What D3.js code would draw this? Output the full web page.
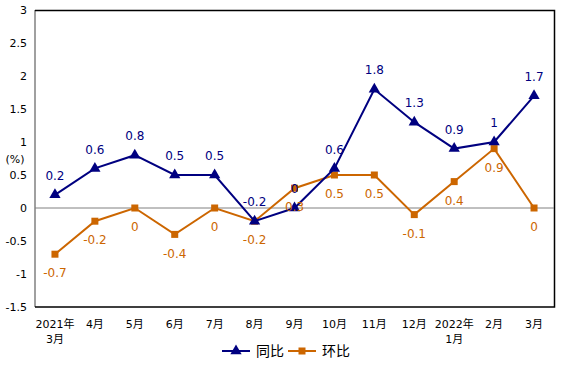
<!DOCTYPE html>
<html>
<head>
<meta charset="utf-8">
<script src="https://cdn.jsdelivr.net/npm/d3@7"></script>
<style>
  html, body { margin: 0; padding: 0; background: #fff; }
  svg text { font-family: "DejaVu Sans", "Noto Sans CJK SC", sans-serif; }
</style>
</head>
<body>
<div id="chart"></div>
<script>
// data
const months = ["2021年\n3月", "4月", "5月", "6月", "7月", "8月", "9月", "10月", "11月", "12月", "2022年\n1月", "2月", "3月"];
const yoy = [0.2, 0.6, 0.8, 0.5, 0.5, -0.2, 0, 0.6, 1.8, 1.3, 0.9, 1, 1.7];   // 同比
const mom = [-0.7, -0.2, 0, -0.4, 0, -0.2, 0.3, 0.5, 0.5, -0.1, 0.4, 0.9, 0]; // 环比
const yTicks = [3, 2.5, 2, 1.5, 1, 0.5, 0, -0.5, -1, -1.5];

const width = 574, height = 374;
const plotL = 35, plotR = 554, plotT = 10, plotB = 307;
const navy = "#000080", orange = "#cc6600";

const svg = d3.select("#chart").append("svg")
	.attr("width", width).attr("height", height);

const x = d3.scalePoint().domain(months).range([plotL, plotR]).padding(0.5);
const y = d3.scaleLinear().domain([-1.5, 3]).range([plotB, plotT]);

// frame: grey left axis, black top/right/bottom
svg.append("line").attr("x1", plotL).attr("x2", plotL).attr("y1", plotT).attr("y2", plotB)
	.attr("stroke", "#808080").attr("stroke-width", 1.5);
svg.append("path")
	.attr("d", `M${plotL},${plotT + 0.5}H${plotR + 0.5}V${plotB}H${plotL}`)
	.attr("fill", "none").attr("stroke", "#000").attr("stroke-width", 1.5);

// zero line
svg.append("line").attr("x1", plotL).attr("x2", plotR).attr("y1", y(0)).attr("y2", y(0))
	.attr("stroke", "#808080").attr("stroke-width", 1);

// y tick labels
svg.append("g").selectAll("text").data(yTicks).join("text")
	.attr("x", 27).attr("y", d => y(d)).attr("dy", "0.35em")
	.attr("text-anchor", "end").attr("font-size", 11).attr("fill", "#000")
	.text(d => d);

svg.append("text").attr("x", 15).attr("y", 159).attr("dy", "0.35em")
	.attr("text-anchor", "middle").attr("font-size", 11).text("(%)");

// x tick labels
const xl = svg.append("g").selectAll("text").data(months).join("text")
	.attr("x", d => x(d)).attr("y", 324)
	.attr("text-anchor", "middle").attr("font-size", 11).attr("fill", "#000");
xl.each(function (d) {
	const parts = d.split("\n");
	const t = d3.select(this);
	parts.forEach((p, i) => {
		t.append("tspan").attr("x", x(d)).attr("dy", i === 0 ? "0.35em" : 15).text(p);
	});
});

const line = d3.line().x((d, i) => x(months[i])).y(d => y(d));

// 环比 series
svg.append("path").datum(mom).attr("d", line)
	.attr("fill", "none").attr("stroke", orange).attr("stroke-width", 2);
svg.append("g").selectAll("rect").data(mom).join("rect")
	.attr("x", (d, i) => x(months[i]) - 3.5).attr("y", d => y(d) - 3.5)
	.attr("width", 7).attr("height", 7).attr("fill", orange);

// 同比 series
svg.append("path").datum(yoy).attr("d", line)
	.attr("fill", "none").attr("stroke", navy).attr("stroke-width", 2);
const tri = d3.symbol().type(d3.symbolTriangle).size(55);
svg.append("g").selectAll("path").data(yoy).join("path")
	.attr("d", tri)
	.attr("transform", (d, i) => `translate(${x(months[i])},${y(d)})`)
	.attr("fill", navy);

// data labels
svg.append("g").selectAll("text").data(yoy).join("text")
	.attr("x", (d, i) => x(months[i])).attr("y", d => y(d) - 19).attr("dy", "0.35em")
	.attr("text-anchor", "middle").attr("font-size", 12).attr("fill", navy)
	.text(d => d);
svg.append("g").selectAll("text").data(mom).join("text")
	.attr("x", (d, i) => x(months[i])).attr("y", d => y(d) + 19).attr("dy", "0.35em")
	.attr("text-anchor", "middle").attr("font-size", 12).attr("fill", orange)
	.text(d => d);

// legend
const legend = svg.append("g");
const items = [
	{name: "同比", color: navy, x0: 222, shape: "tri"},
	{name: "环比", color: orange, x0: 288, shape: "sq"}
];
items.forEach(it => {
	const ly = 351;
	legend.append("line").attr("x1", it.x0).attr("x2", it.x0 + 28).attr("y1", ly).attr("y2", ly)
		.attr("stroke", it.color).attr("stroke-width", 2);
	if (it.shape === "tri") {
		legend.append("path").attr("d", tri).attr("transform", `translate(${it.x0 + 14},${ly})`).attr("fill", it.color);
	} else {
		legend.append("rect").attr("x", it.x0 + 14 - 3.5).attr("y", ly - 3.5).attr("width", 7).attr("height", 7).attr("fill", it.color);
	}
	legend.append("text").attr("x", it.x0 + 34).attr("y", ly).attr("dy", "0.35em")
		.attr("font-size", 14).attr("fill", "#000")
		.style("font-family", "'Noto Sans CJK SC', sans-serif")
		.text(it.name);
});
</script>
</body>
</html>
